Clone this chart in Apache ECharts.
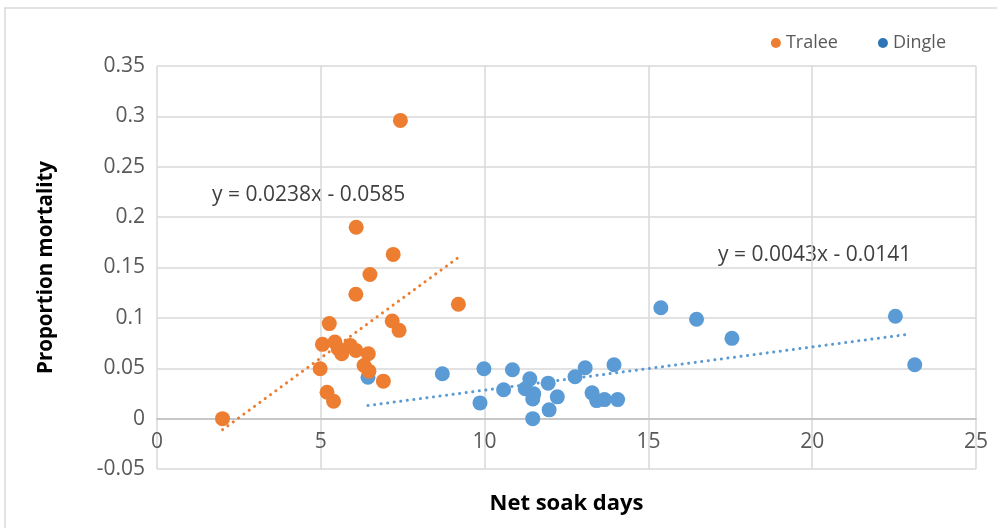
<!DOCTYPE html>
<html>
<head>
<meta charset="utf-8">
<script src="https://cdn.jsdelivr.net/npm/echarts@6/dist/echarts.min.js"></script>
<style>
  html, body { margin: 0; padding: 0; background: #fff; }
  #chart { width: 997px; height: 528px; }
</style>
</head>
<body>
<div id="chart"></div>
<script>
// Tralee points [net soak days, proportion mortality]
const traleeData = [
  [2.0, 0.0], [7.43, 0.296], [6.08, 0.190], [7.21, 0.163], [6.50, 0.143],
  [6.07, 0.1235], [9.20, 0.1135], [5.26, 0.0943], [7.18, 0.0969], [7.39, 0.0876],
  [5.05, 0.0737], [5.43, 0.076], [5.53, 0.0694], [5.64, 0.0644], [5.90, 0.0727],
  [6.07, 0.0677], [6.45, 0.0644], [6.32, 0.0528], [6.47, 0.0471], [4.98, 0.0495],
  [5.19, 0.0262], [5.39, 0.0172], [6.91, 0.0372]
];
// Dingle points
const dingleData = [
  [6.44, 0.041], [8.71, 0.0445], [9.98, 0.0495], [9.86, 0.0156], [10.85, 0.0485],
  [10.58, 0.0286], [11.38, 0.0395], [11.24, 0.0296], [11.50, 0.0246], [11.47, 0.0196],
  [11.47, 0.0], [11.94, 0.0352], [12.22, 0.0216], [11.97, 0.0087], [12.76, 0.0415],
  [13.07, 0.0505], [13.95, 0.0535], [13.28, 0.0256], [13.42, 0.0179], [13.66, 0.0189],
  [14.06, 0.0189], [15.38, 0.110], [16.47, 0.0986], [17.55, 0.0797], [22.54, 0.1016],
  [23.13, 0.0535]
];
// trendline end points
const traleeTrend = [[2.0, -0.011], [9.2, 0.160]];
const dingleTrend = [[6.44, 0.013], [23.0, 0.084]];
const traleeEq = 'y = 0.0238x - 0.0585';
const dingleEq = 'y = 0.0043x - 0.0141';

const orange = '#ED7D31';
const blue = '#5B9BD5';
const font = 'Open Sans';

const myChart = echarts.init(document.getElementById('chart'));
const option = {
  animation: false,
  textStyle: { fontFamily: font },
  grid: { left: 157, right: 21, top: 66, bottom: 59, outerBoundsMode: 'none' },
  legend: {
    top: 29,
    right: 46,
    itemGap: 40,
    itemWidth: 10,
    itemHeight: 10,
    textStyle: { color: '#595959', fontSize: 18, fontFamily: font },
    data: [
      { name: 'Tralee', icon: 'circle', itemStyle: { color: orange } },
      { name: 'Dingle', icon: 'circle', itemStyle: { color: '#2E75B6' } }
    ]
  },
  xAxis: {
    type: 'value',
    min: 0, max: 25, interval: 5,
    name: 'Net soak days',
    nameLocation: 'middle',
    nameGap: 24,
    nameTextStyle: { color: '#000', fontSize: 22, fontWeight: 'bold', fontFamily: font },
    axisLine: { onZero: true, lineStyle: { color: '#BFBFBF', width: 1.5 } },
    axisTick: { show: false },
    // labels sit just under the zero line, as in the original
    axisLabel: { color: '#595959', fontSize: 21, margin: -37 },
    splitLine: { show: true, lineStyle: { color: '#D9D9D9', width: 1.5 } }
  },
  yAxis: {
    type: 'value',
    min: -0.05, max: 0.35, interval: 0.05,
    name: 'Proportion mortality',
    nameLocation: 'middle',
    nameGap: 100,
    nameTextStyle: { color: '#000', fontSize: 20.5, fontWeight: 'bold', fontFamily: font },
    axisLine: { show: false },
    axisTick: { show: false },
    axisLabel: {
      color: '#595959', fontSize: 21, margin: 12,
      formatter: v => String(parseFloat(v.toFixed(2)))
    },
    splitLine: { show: true, lineStyle: { color: '#D9D9D9', width: 1.5 } }
  },
  graphic: [
    {
      type: 'rect', silent: true, z: -1,
      shape: { x: 5, y: 8, width: 1000, height: 530 },
      style: { fill: 'none', stroke: '#D9D9D9', lineWidth: 1.5 }
    },
    {
      type: 'text', left: 212, top: 185,
      style: { text: traleeEq, fill: '#404040', fontSize: 21, fontFamily: font }
    },
    {
      type: 'text', left: 718, top: 245,
      style: { text: dingleEq, fill: '#404040', fontSize: 21, fontFamily: font }
    }
  ],
  series: [
    {
      name: 'Tralee',
      type: 'scatter',
      symbolSize: 15,
      itemStyle: { color: orange, opacity: 1 },
      data: traleeData,
      z: 3
    },
    {
      name: 'Dingle',
      type: 'scatter',
      symbolSize: 15,
      itemStyle: { color: blue, opacity: 1 },
      data: dingleData,
      z: 2
    },
    {
      name: 'TraleeTrend',
      type: 'line',
      data: traleeTrend,
      symbol: 'none',
      lineStyle: { color: orange, width: 3, type: [0.1, 6.5], cap: 'round' },
      z: 4
    },
    {
      name: 'DingleTrend',
      type: 'line',
      data: dingleTrend,
      symbol: 'none',
      lineStyle: { color: blue, width: 3, type: [0.1, 6.5], cap: 'round' },
      z: 1
    }
  ]
};
myChart.setOption(option);
</script>
</body>
</html>
